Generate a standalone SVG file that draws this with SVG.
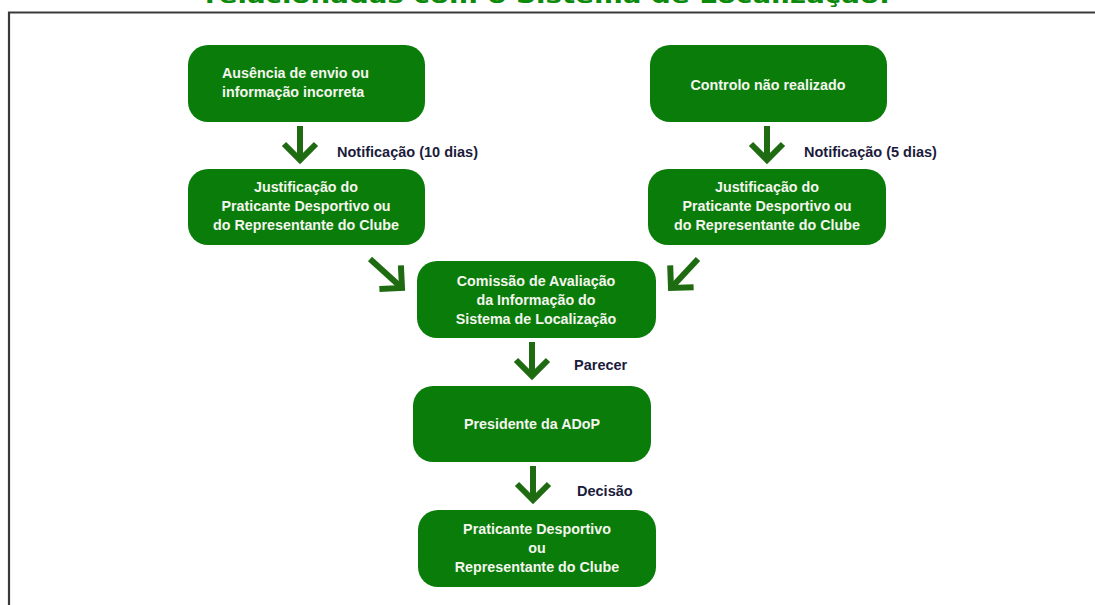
<svg xmlns="http://www.w3.org/2000/svg" width="1095" height="605" viewBox="0 0 1095 605">
  <style>
    .box { fill: #0a7c0a; }
    .t { font-family: "Liberation Sans", Arial, sans-serif; font-weight: bold; font-size: 14.3px; fill: #f4f6ee; text-anchor: middle; }
    .tl { text-anchor: start; }
    .lbl { font-family: "Liberation Sans", Arial, sans-serif; font-weight: bold; font-size: 14.5px; fill: #1b1b3c; }
    .arr { stroke: #1f6b12; stroke-width: 6; fill: none; marker-end: url(#ah); }
    .title { font-family: "DejaVu Sans", Verdana, sans-serif; font-weight: bold; font-size: 22px; fill: #0c8a0c; }
  </style>
  <defs>
    <marker id="ah" viewBox="-20 -20 26 40" refX="0" refY="0" markerWidth="26" markerHeight="40" markerUnits="userSpaceOnUse" orient="auto" overflow="visible">
      <path d="M-16,-16 L0,0 L-16,16" stroke="#1f6b12" stroke-width="6" fill="none"/>
    </marker>
  </defs>
  <rect width="1095" height="605" fill="#ffffff"/>
  <text class="title" x="205" y="3" textLength="685" lengthAdjust="spacingAndGlyphs">relacionadas com o Sistema de Localização:</text>
  <path d="M9,620 L9,12.5 L1100,12.5" fill="none" stroke="#3a3a3a" stroke-width="2.2"/>

  <g id="n1">
    <rect class="box" x="188" y="45" width="237" height="77" rx="20" ry="20"/>
    <text class="t tl" x="222" y="78">Ausência de envio ou</text>
    <text class="t tl" x="222" y="97">informação incorreta</text>
  </g>
  <g id="n2">
    <rect class="box" x="650" y="45" width="237" height="77" rx="20" ry="20"/>
    <text class="t" x="768" y="90">Controlo não realizado</text>
  </g>
  <g id="n3">
    <rect class="box" x="188" y="169" width="237" height="76" rx="20" ry="20"/>
    <text class="t" x="306" y="192">Justificação do</text>
    <text class="t" x="306" y="211">Praticante Desportivo ou</text>
    <text class="t" x="306" y="230">do Representante do Clube</text>
  </g>
  <g id="n4">
    <rect class="box" x="648" y="169" width="238" height="76" rx="20" ry="20"/>
    <text class="t" x="767" y="192">Justificação do</text>
    <text class="t" x="767" y="211">Praticante Desportivo ou</text>
    <text class="t" x="767" y="230">do Representante do Clube</text>
  </g>
  <g id="n5">
    <rect class="box" x="417" y="261" width="239" height="77" rx="20" ry="20"/>
    <text class="t" x="536" y="286">Comissão de Avaliação</text>
    <text class="t" x="536" y="305">da Informação do</text>
    <text class="t" x="536" y="324">Sistema de Localização</text>
  </g>
  <g id="n6">
    <rect class="box" x="413" y="386" width="238" height="76" rx="20" ry="20"/>
    <text class="t" x="532" y="429">Presidente da ADoP</text>
  </g>
  <g id="n7">
    <rect class="box" x="418" y="510" width="238" height="77" rx="20" ry="20"/>
    <text class="t" x="537" y="534">Praticante Desportivo</text>
    <text class="t" x="537" y="553">ou</text>
    <text class="t" x="537" y="572">Representante do Clube</text>
  </g>

  <g id="connectors">
    <line class="arr" x1="300" y1="126" x2="300" y2="160"/>
    <line class="arr" x1="767" y1="126" x2="767" y2="160"/>
    <line class="arr" x1="370" y1="259" x2="402" y2="288"/>
    <line class="arr" x1="698" y1="259" x2="671" y2="288"/>
    <line class="arr" x1="532" y1="342" x2="532" y2="376"/>
    <line class="arr" x1="533" y1="466" x2="533" y2="500"/>
    <text class="lbl" x="337" y="157">Notificação (10 dias)</text>
    <text class="lbl" x="804" y="157">Notificação (5 dias)</text>
    <text class="lbl" x="574" y="370">Parecer</text>
    <text class="lbl" x="577" y="496">Decisão</text>
  </g>
</svg>
